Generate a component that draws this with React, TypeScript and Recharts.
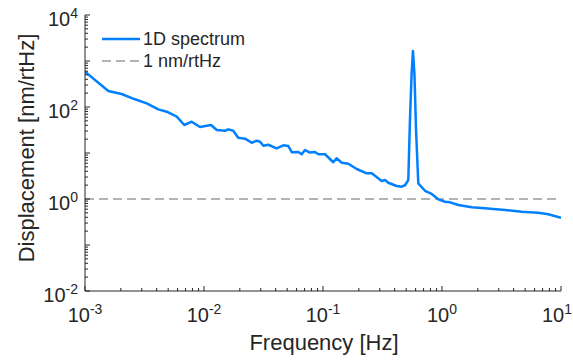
import React from 'react';
import { LineChart, Line, XAxis, YAxis, Legend, Label } from 'recharts';

const freqHz = [0.001, 0.00157, 0.00203, 0.00263, 0.0033, 0.00413, 0.00486, 0.0059, 0.00683, 0.00788, 0.00925, 0.01145, 0.0128, 0.015, 0.016, 0.0176, 0.0194, 0.0221, 0.0252, 0.0277, 0.0296, 0.0315, 0.0347, 0.0408, 0.0464, 0.0511, 0.0546, 0.062, 0.0662, 0.0706, 0.0778, 0.0857, 0.0914, 0.104, 0.122, 0.13, 0.144, 0.163, 0.192, 0.233, 0.257, 0.311, 0.332, 0.354, 0.416, 0.458, 0.489, 0.521, 0.538, 0.555, 0.57, 0.587, 0.605, 0.632, 0.72, 0.819, 0.931, 1.06, 1.17, 1.37, 1.78, 2.3, 3.38, 4.68, 6.44, 7.82, 10];
const dispNm = [585, 223, 192, 147, 120, 89, 79, 61.5, 40.6, 47.9, 36.7, 40.6, 31.6, 30.5, 32.7, 30.5, 21.5, 20.5, 16.7, 18.5, 17.6, 14.4, 15.1, 12.6, 14.7, 14.2, 10.4, 10.5, 9.4, 11.6, 10.2, 10.5, 9.4, 9.4, 6.3, 7.7, 6.15, 5.85, 4.49, 3.61, 3.61, 2.46, 2.59, 2.26, 1.92, 1.85, 1.99, 2.59, 52, 500, 1650, 500, 32, 2.19, 1.51, 1.285, 0.984, 0.873, 0.847, 0.741, 0.661, 0.628, 0.577, 0.53, 0.504, 0.465, 0.392];
const refLevel = 1;
const refFreqs = [0.001, 10];

const xDecades = [0.001, 0.01, 0.1, 1, 10];
const yDecades = [0.01, 0.1, 1, 10, 100, 1000, 10000];
const yLabelled = [0.01, 1, 100, 10000];
const seriesNames: Record<string, string> = { d: '1D spectrum', ref: '1 nm/rtHz' };
const xTitle = 'Frequency [Hz]';
const yTitle = 'Displacement [nm/rtHz]';

const FONT = '"Liberation Sans", Arial, Helvetica, sans-serif';
const INK = '#262626';
const BLUE = '#0080ff';
const GREY = '#9a9a9a';
const CHART_W = 573;

function withMinors(decades: number[]) {
  const out: number[] = [];
  for (let i = 0; i < decades.length; i++) {
    out.push(decades[i]);
    if (i < decades.length - 1) {
      for (let k = 2; k <= 9; k++) out.push(+(decades[i] * k).toPrecision(6));
    }
  }
  return out;
}
const xTicks = withMinors(xDecades);
const yTicks = withMinors(yDecades);

const spectrum = freqHz.map((f, i) => ({ f, d: dispNm[i] }));
const refData = refFreqs.map((f) => ({ f, ref: refLevel }));

const isDecade = (v: number) => Math.abs(Math.log10(v) - Math.round(Math.log10(v))) < 1e-6;
const expOf = (v: number) => String(Math.round(Math.log10(v)));

const BottomTick = (props: any) => {
  const { x, y, payload } = props;
  const v = payload.value;
  const major = isDecade(v);
  const len = major ? 5 : 3;
  const halfW = 15;
  const clamp = x + halfW > CHART_W - 1;
  return (
    <g>
      <line x1={x} y1={y} x2={x} y2={y - len} stroke={INK} strokeWidth={1} />
      {major && (
        <text
          x={clamp ? CHART_W - 1 : x}
          y={y + 31}
          textAnchor={clamp ? 'end' : 'middle'}
          fontSize={20}
          fontFamily={FONT}
          fill={INK}
        >
          <tspan>10</tspan>
          <tspan dy={-8} fontSize={14}>{expOf(v)}</tspan>
        </text>
      )}
    </g>
  );
};

const TopTick = (props: any) => {
  const { x, y, payload } = props;
  const len = isDecade(payload.value) ? 5 : 3;
  return <line x1={x} y1={y} x2={x} y2={y + len} stroke={INK} strokeWidth={1} />;
};

const LeftTick = (props: any) => {
  const { x, y, payload } = props;
  const v = payload.value;
  const major = isDecade(v);
  const len = major ? 5 : 3;
  const labelled = yLabelled.some((t) => Math.abs(Math.log10(t) - Math.log10(v)) < 1e-6);
  return (
    <g>
      <line x1={x} y1={y} x2={x + len} y2={y} stroke={INK} strokeWidth={1} />
      {labelled && (
        <text x={x - 7} y={y + 11} textAnchor="end" fontSize={20} fontFamily={FONT} fill={INK}>
          <tspan>10</tspan>
          <tspan dy={-8} fontSize={14}>{expOf(v)}</tspan>
        </text>
      )}
    </g>
  );
};

const RightTick = (props: any) => {
  const { x, y, payload } = props;
  const len = isDecade(payload.value) ? 5 : 3;
  return <line x1={x} y1={y} x2={x - len} y2={y} stroke={INK} strokeWidth={1} />;
};

const LegendBox = (props: any) => {
  const order = ['d', 'ref'];
  const items = [...(props.payload || [])].sort(
    (a: any, b: any) => order.indexOf(a.dataKey) - order.indexOf(b.dataKey)
  );
  return (
    <div style={{ fontFamily: FONT, fontSize: 18, color: INK }}>
      {items.map((it: any) => (
        <div key={it.dataKey} style={{ display: 'flex', alignItems: 'center', height: 22 }}>
          <svg width={40} height={22} style={{ display: 'block' }}>
            <line
              x1={0}
              y1={11}
              x2={38}
              y2={11}
              stroke={it.dataKey === 'd' ? BLUE : GREY}
              strokeWidth={it.dataKey === 'd' ? 2.5 : 1.5}
              strokeDasharray={it.dataKey === 'd' ? undefined : '9 5'}
            />
          </svg>
          <span style={{ marginLeft: 1, whiteSpace: 'nowrap', lineHeight: '22px' }}>{it.value}</span>
        </div>
      ))}
    </div>
  );
};

const YTitle = (props: any) => {
  const vb = props.viewBox || { x: 0, y: 15, width: 85, height: 276 };
  const cx = vb.x + 26;
  const cy = vb.y + vb.height / 2 - 5;
  return (
    <text
      x={cx}
      y={cy}
      transform={`rotate(-90 ${cx} ${cy})`}
      textAnchor="middle"
      dominantBaseline="central"
      fontSize={22}
      fontFamily={FONT}
      fill={INK}
    >
      {yTitle}
    </text>
  );
};

const XTitle = (props: any) => {
  const vb = props.viewBox || { x: 85, y: 291, width: 476, height: 69 };
  const cx = vb.x + vb.width / 2 + 1;
  const by = vb.y + 59;
  return (
    <text x={cx} y={by} textAnchor="middle" fontSize={22} fontFamily={FONT} fill={INK}>
      {xTitle}
    </text>
  );
};

export default function App() {
  return (
    <div style={{ position: 'absolute', left: 0, top: 0, width: 573, height: 360, background: '#fff' }}>
      <LineChart width={573} height={360} data={spectrum} margin={{ top: 15, right: 12, bottom: 0, left: 0 }}>
        <XAxis
          xAxisId="b"
          dataKey="f"
          type="number"
          scale="log"
          domain={[0.001, 10]}
          allowDataOverflow
          ticks={xTicks}
          interval={0}
          tick={<BottomTick />}
          tickLine={false}
          tickSize={0}
          tickMargin={0}
          height={69}
          axisLine={{ stroke: INK, strokeWidth: 1 }}
        >
          <Label content={<XTitle />} />
        </XAxis>
        <XAxis
          xAxisId="t"
          orientation="top"
          dataKey="f"
          type="number"
          scale="log"
          domain={[0.001, 10]}
          allowDataOverflow
          ticks={xTicks}
          interval={0}
          tick={<TopTick />}
          tickLine={false}
          tickSize={0}
          tickMargin={0}
          height={0}
          axisLine={{ stroke: INK, strokeWidth: 1 }}
        />
        <YAxis
          yAxisId="l"
          type="number"
          scale="log"
          domain={[0.01, 10000]}
          allowDataOverflow
          ticks={yTicks}
          interval={0}
          tick={<LeftTick />}
          tickLine={false}
          tickSize={0}
          tickMargin={0}
          width={85}
          axisLine={{ stroke: INK, strokeWidth: 1 }}
        >
          <Label content={<YTitle />} />
        </YAxis>
        <YAxis
          yAxisId="r"
          orientation="right"
          type="number"
          scale="log"
          domain={[0.01, 10000]}
          allowDataOverflow
          ticks={yTicks}
          interval={0}
          tick={<RightTick />}
          tickLine={false}
          tickSize={0}
          tickMargin={0}
          width={0}
          axisLine={{ stroke: INK, strokeWidth: 1 }}
        />
        <Line
          xAxisId="b"
          yAxisId="l"
          data={refData}
          dataKey="ref"
          name={seriesNames.ref}
          stroke={GREY}
          strokeWidth={1.5}
          strokeDasharray="9 5"
          dot={false}
          activeDot={false}
          type="linear"
          isAnimationActive={false}
        />
        <Line
          xAxisId="b"
          yAxisId="l"
          dataKey="d"
          name={seriesNames.d}
          stroke={BLUE}
          strokeWidth={2.5}
          dot={false}
          activeDot={false}
          type="linear"
          strokeLinejoin="round"
          isAnimationActive={false}
        />
        <Legend
          layout="vertical"
          align="center"
          verticalAlign="middle"
          content={<LegendBox />}
          wrapperStyle={{ left: 102, top: 28, width: 'auto', height: 'auto' }}
        />
      </LineChart>
    </div>
  );
}
